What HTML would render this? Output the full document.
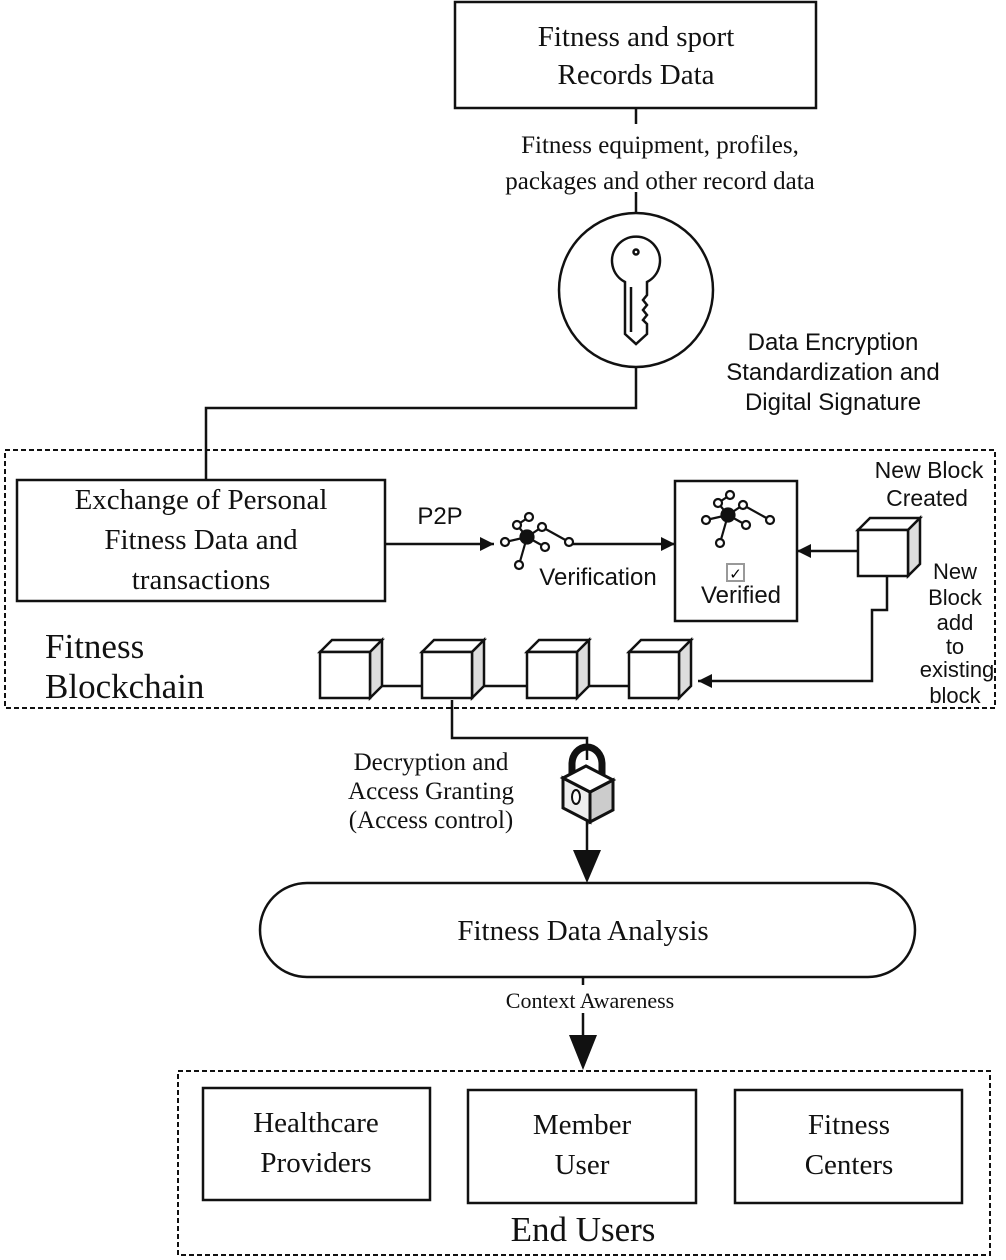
<!DOCTYPE html>
<html><head><meta charset="utf-8"><style>body{margin:0;background:#fff}svg{display:block}</style></head>
<body>
<svg width="1006" height="1260" viewBox="0 0 1006 1260" xmlns="http://www.w3.org/2000/svg">
<defs>
<marker id="ah" viewBox="0 0 10 10" refX="10" refY="5" markerWidth="20" markerHeight="14" markerUnits="userSpaceOnUse" orient="auto"><path d="M0,0 L10,5 L0,10z" fill="#111"/></marker>
<g id="cube">
<path d="M0,12 L12,0 L62,0 L50,12z" fill="#fff" stroke="#111" stroke-width="2.5"/>
<path d="M50,12 L62,0 L62,46 L50,58z" fill="#ddd" stroke="#111" stroke-width="2.5"/>
<rect x="0" y="12" width="50" height="46" fill="#fff" stroke="#111" stroke-width="2.5"/>
</g>
<g id="net" stroke="#111" stroke-width="2.2" fill="#fff">
<line x1="0" y1="0" x2="-22" y2="5"/><line x1="0" y1="0" x2="-10" y2="-12"/><line x1="0" y1="0" x2="15" y2="-10"/><line x1="15" y1="-10" x2="42" y2="5"/><line x1="0" y1="0" x2="18" y2="10"/><line x1="0" y1="0" x2="-8" y2="28"/><line x1="-10" y1="-12" x2="2" y2="-20"/>
<circle cx="-22" cy="5" r="4"/><circle cx="-10" cy="-12" r="4"/><circle cx="2" cy="-20" r="4"/><circle cx="15" cy="-10" r="4"/><circle cx="42" cy="5" r="4"/><circle cx="18" cy="10" r="4"/><circle cx="-8" cy="28" r="4"/>
<circle cx="0" cy="0" r="6.5" fill="#111"/>
</g>
</defs>
<g fill="none" stroke="#111" stroke-width="2.5">
<rect x="455" y="2" width="361" height="106"/>
<line x1="636" y1="108" x2="636" y2="124"/>
<line x1="636" y1="192" x2="636" y2="213"/>
<circle cx="636" cy="290" r="77"/>
<polyline points="636,367 636,408 206,408 206,480"/>
<rect x="5" y="450" width="990" height="258" stroke-dasharray="5,3" stroke-width="2"/>
<rect x="17" y="480" width="368" height="121"/>
<line x1="385" y1="544" x2="494" y2="544" marker-end="url(#ah)"/>
<line x1="568" y1="544" x2="675" y2="544" marker-end="url(#ah)"/>
<rect x="675" y="481" width="122" height="140"/>
<line x1="859" y1="551" x2="797" y2="551" marker-end="url(#ah)"/>
<polyline points="887,576 887,610 872,610 872,681 698,681" marker-end="url(#ah)"/>
<line x1="370" y1="686" x2="422" y2="686"/>
<line x1="478" y1="686" x2="527" y2="686"/>
<line x1="580" y1="686" x2="629" y2="686"/>
<polyline points="452,700 452,738 587,738 587,760"/>
<line x1="587" y1="815" x2="587" y2="855"/>
<rect x="260" y="883" width="655" height="94" rx="47"/>
<line x1="583" y1="1013" x2="583" y2="1035"/>
<line x1="583" y1="977" x2="583" y2="985"/>
<rect x="178" y="1071" width="812" height="184" stroke-dasharray="5,3" stroke-width="2"/>
<rect x="203" y="1088" width="227" height="112"/>
<rect x="468" y="1090" width="228" height="113"/>
<rect x="735" y="1090" width="227" height="113"/>
</g>
<path d="M573,850 L601,850 L587,883z" fill="#111"/>
<path d="M569,1035 L597,1035 L583,1070z" fill="#111"/>
<!-- key -->
<g fill="#fff" stroke="#111" stroke-width="2.5">
<path d="M625,282 L625,334 L636,344 L647,334 L647,324 L643,320 L647,315 L643,310 L647,305 L643,300 L647,295 L647,282 A24,24 0 1 0 625,282z"/>
<circle cx="636" cy="252" r="2.5"/>
<line x1="631" y1="287" x2="631" y2="332"/>
</g>
<!-- cubes -->
<use href="#cube" x="858" y="518"/>
<use href="#cube" x="320" y="640"/>
<use href="#cube" x="422" y="640"/>
<use href="#cube" x="527" y="640"/>
<use href="#cube" x="629" y="640"/>
<use href="#net" x="527" y="537"/>
<use href="#net" x="728" y="515"/>
<rect x="727" y="564" width="17" height="17" fill="#fff" stroke="#999" stroke-width="2"/>
<text x="735.5" y="579" font-family="DejaVu Sans" font-size="15" font-weight="bold" text-anchor="middle">✓</text>
<!-- lock -->
<g stroke="#111" stroke-width="3">
<path d="M572,778 L572,764 A15,17 0 0 1 602,764 L602,782" fill="none" stroke-width="7"/>
<path d="M563,778 L590,792 L590,822 L563,808z" fill="#eee"/>
<path d="M590,792 L613,780 L613,810 L590,822z" fill="#ccc"/>
<path d="M563,778 L586,766 L613,780 L590,792z" fill="#fff"/>
<ellipse cx="576" cy="797" rx="4" ry="7" fill="#fff" stroke-width="2"/>
</g>
<g font-family="Liberation Serif, serif" fill="#111" text-anchor="middle">
<text x="636" y="46" font-size="29">Fitness and sport</text>
<text x="636" y="84" font-size="29">Records Data</text>
<text x="660" y="153" font-size="25">Fitness equipment, profiles,</text>
<text x="660" y="189" font-size="25">packages and other record data</text>
<text x="201" y="509" font-size="29">Exchange of Personal</text>
<text x="201" y="549" font-size="29">Fitness Data and</text>
<text x="201" y="589" font-size="29">transactions</text>
<text x="45" y="658" font-size="35" text-anchor="start">Fitness</text>
<text x="45" y="698" font-size="35" text-anchor="start">Blockchain</text>
<text x="431" y="770" font-size="25">Decryption and</text>
<text x="431" y="799" font-size="25">Access Granting</text>
<text x="431" y="828" font-size="25">(Access control)</text>
<text x="583" y="940" font-size="29">Fitness Data Analysis</text>
<text x="590" y="1008" font-size="22">Context Awareness</text>
<text x="316" y="1132" font-size="29">Healthcare</text>
<text x="316" y="1172" font-size="29">Providers</text>
<text x="582" y="1134" font-size="29">Member</text>
<text x="582" y="1174" font-size="29">User</text>
<text x="849" y="1134" font-size="29">Fitness</text>
<text x="849" y="1174" font-size="29">Centers</text>
<text x="583" y="1241" font-size="35">End Users</text>
</g>
<g font-family="Liberation Sans, sans-serif" fill="#111" text-anchor="middle">
<text x="833" y="350" font-size="24">Data Encryption</text>
<text x="833" y="380" font-size="24">Standardization and</text>
<text x="833" y="410" font-size="24">Digital Signature</text>
<text x="440" y="524" font-size="24">P2P</text>
<text x="598" y="585" font-size="24">Verification</text>
<text x="741" y="603" font-size="24">Verified</text>
<text x="929" y="478" font-size="23">New Block</text>
<text x="927" y="506" font-size="23">Created</text>
<text x="955" y="579" font-size="22">New</text>
<text x="955" y="605" font-size="22">Block</text>
<text x="955" y="630" font-size="22">add</text>
<text x="955" y="654" font-size="22">to</text>
<text x="957" y="677" font-size="22">existing</text>
<text x="955" y="703" font-size="22">block</text>
</g>
</svg>
</body></html>
